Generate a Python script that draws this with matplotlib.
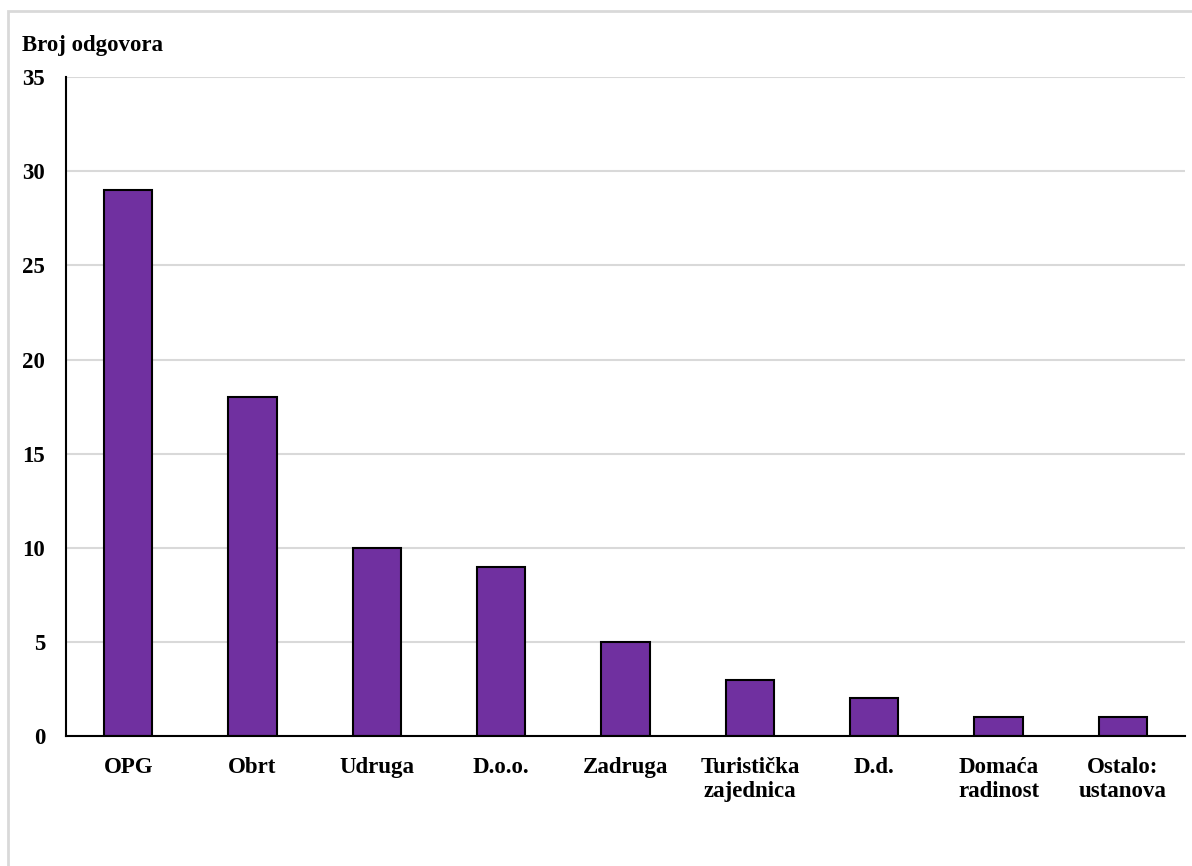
import matplotlib.pyplot as plt
import numpy as np
from matplotlib.patches import Rectangle

# Data
categories = ['OPG', 'Obrt', 'Udruga', 'D.o.o.', 'Zadruga', 'Turistička\nzajednica',
              'D.d.', 'Domaća\nradinost', 'Ostalo:\nustanova']
values = [29, 18, 10, 9, 5, 3, 2, 1, 1]

plt.rcParams['font.family'] = ['Liberation Serif', 'DejaVu Serif']
plt.rcParams['font.weight'] = 'bold'

fig = plt.figure(figsize=(11.92, 8.66), dpi=100)
ax = fig.add_axes([0.0554, 0.150, 0.9387, 0.761])

x = np.arange(len(categories))
ax.bar(x, values, width=0.39, color='#7030A0', edgecolor='black', linewidth=1.5, zorder=3)

ax.set_xlim(-0.5, len(categories) - 0.5)
ax.set_ylim(0, 35)
ax.set_yticks(range(0, 36, 5))
ax.set_xticks(x)
ax.set_xticklabels(categories, fontsize=16.5, fontweight='bold', linespacing=1.2)
ax.tick_params(axis='both', length=0, labelsize=16.5)
ax.tick_params(axis='x', pad=15)
ax.tick_params(axis='y', pad=15)
for lbl in ax.get_yticklabels():
    lbl.set_fontweight('bold')

ax.grid(axis='y', color='#D9D9D9', linewidth=1.5, zorder=0)
ax.set_axisbelow(True)
for s in ['top', 'right']:
    ax.spines[s].set_visible(False)
for s in ['left', 'bottom']:
    ax.spines[s].set_linewidth(1.5)
    ax.spines[s].set_zorder(4)

fig.text(22 / 1192, 1 - 46 / 866, 'Broj odgovora', fontsize=16.5, fontweight='bold',
         ha='left', va='center')

# light border around chart area
fig.patches.append(Rectangle((8 / 1192, -0.05), 1.1, 1 - 11 / 866 + 0.05,
                             transform=fig.transFigure, fill=False,
                             edgecolor='#D9D9D9', linewidth=2))

fig.savefig('out.png', dpi=100)
